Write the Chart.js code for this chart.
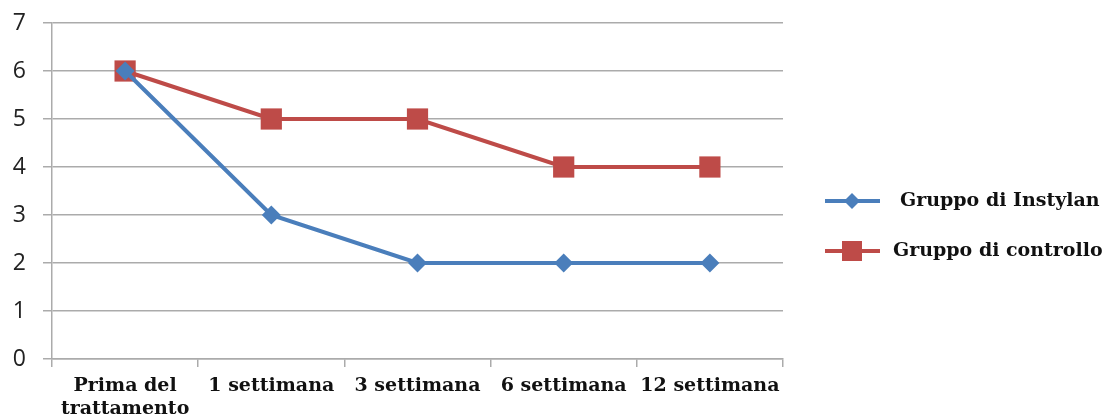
<!DOCTYPE html>
<html>
<head>
<meta charset="utf-8">
<script src="https://cdn.jsdelivr.net/npm/chart.js@4/dist/chart.umd.min.js"></script>
<style>
html,body{margin:0;padding:0;background:#fff;}
#wrap{width:1108px;height:418px;position:relative;}
</style>
</head>
<body>
<div id="wrap"><canvas id="c" width="1108" height="418"></canvas></div>
<script>
const categories = [["Prima del","trattamento"], "1 settimana", "3 settimana", "6 settimana", "12 settimana"];
const seriesNames = ["Gruppo di Instylan", "Gruppo di controllo"];
const instylan = [6, 3, 2, 2, 2];
const controllo = [6, 5, 5, 4, 4];
const yTicks = [0, 1, 2, 3, 4, 5, 6, 7];

const BLUE = '#4A7EBB';
const RED = '#BE4B48';
const GRID = '#ABABAB';

const legendPlugin = {
  id: 'sideLegend',
  afterDraw(chart) {
    const ctx = chart.ctx;
    const items = [
      {name: seriesNames[0], color: BLUE, style: 'diamond', y: 201, tx: 900},
      {name: seriesNames[1], color: RED, style: 'square', y: 251, tx: 893}
    ];
    ctx.save();
    items.forEach(it => {
      ctx.strokeStyle = it.color;
      ctx.lineWidth = 4;
      ctx.beginPath();
      ctx.moveTo(825, it.y);
      ctx.lineTo(880, it.y);
      ctx.stroke();
      ctx.fillStyle = it.color;
      const cx = 852;
      if (it.style === 'diamond') {
        ctx.beginPath();
        ctx.moveTo(cx, it.y - 8);
        ctx.lineTo(cx + 8, it.y);
        ctx.lineTo(cx, it.y + 8);
        ctx.lineTo(cx - 8, it.y);
        ctx.closePath();
        ctx.fill();
      } else {
        ctx.fillRect(cx - 10, it.y - 10, 20, 20);
      }
      ctx.fillStyle = '#111';
      ctx.font = 'bold 19px "DejaVu Serif"';
      ctx.textBaseline = 'middle';
      ctx.textAlign = 'left';
      ctx.fillText(it.name, it.tx, it.y);
    });
    ctx.restore();
  }
};

new Chart(document.getElementById('c'), {
  type: 'line',
  data: {
    labels: categories,
    datasets: [
      {
        label: seriesNames[0], data: instylan,
        borderColor: BLUE, backgroundColor: BLUE, borderWidth: 4,
        pointStyle: 'rectRot', pointRadius: 9.5, pointHoverRadius: 9.5,
        pointBorderWidth: 0, tension: 0
      },
      {
        label: seriesNames[1], data: controllo,
        borderColor: RED, backgroundColor: RED, borderWidth: 4,
        pointStyle: 'rect', pointRadius: 15, pointHoverRadius: 15,
        pointBorderWidth: 0, tension: 0
      }
    ]
  },
  options: {
    responsive: false,
    animation: false,
    events: [],
    layout: {padding: {top: 23, right: 325, left: 0, bottom: 0}},
    plugins: {legend: {display: false}, tooltip: {enabled: false}},
    scales: {
      x: {
        offset: true,
        grid: {offset: true, drawOnChartArea: false, drawTicks: true, tickLength: 8, color: GRID, lineWidth: 1.5},
        border: {color: GRID, width: 1.5},
        ticks: {color: '#111', font: {family: '"DejaVu Serif"', weight: 'bold', size: 19, lineHeight: 1.2}, padding: 8, maxRotation: 0, autoSkip: false},
        afterFit(s) { s.height = 59; s.paddingLeft = 0; s.paddingRight = 0; }
      },
      y: {
        min: 0, max: 7,
        afterBuildTicks(s) { s.ticks = yTicks.map(v => ({value: v})); },
        grid: {color: GRID, lineWidth: 1.5, tickLength: 9},
        border: {color: GRID, width: 1.5},
        ticks: {color: '#222', font: {family: '"Open Sans"', size: 23}, padding: 17},
        afterFit(s) { s.width = 52; s.paddingTop = 0; s.paddingBottom = 0; }
      }
    }
  },
  plugins: [legendPlugin]
});
</script>
</body>
</html>
